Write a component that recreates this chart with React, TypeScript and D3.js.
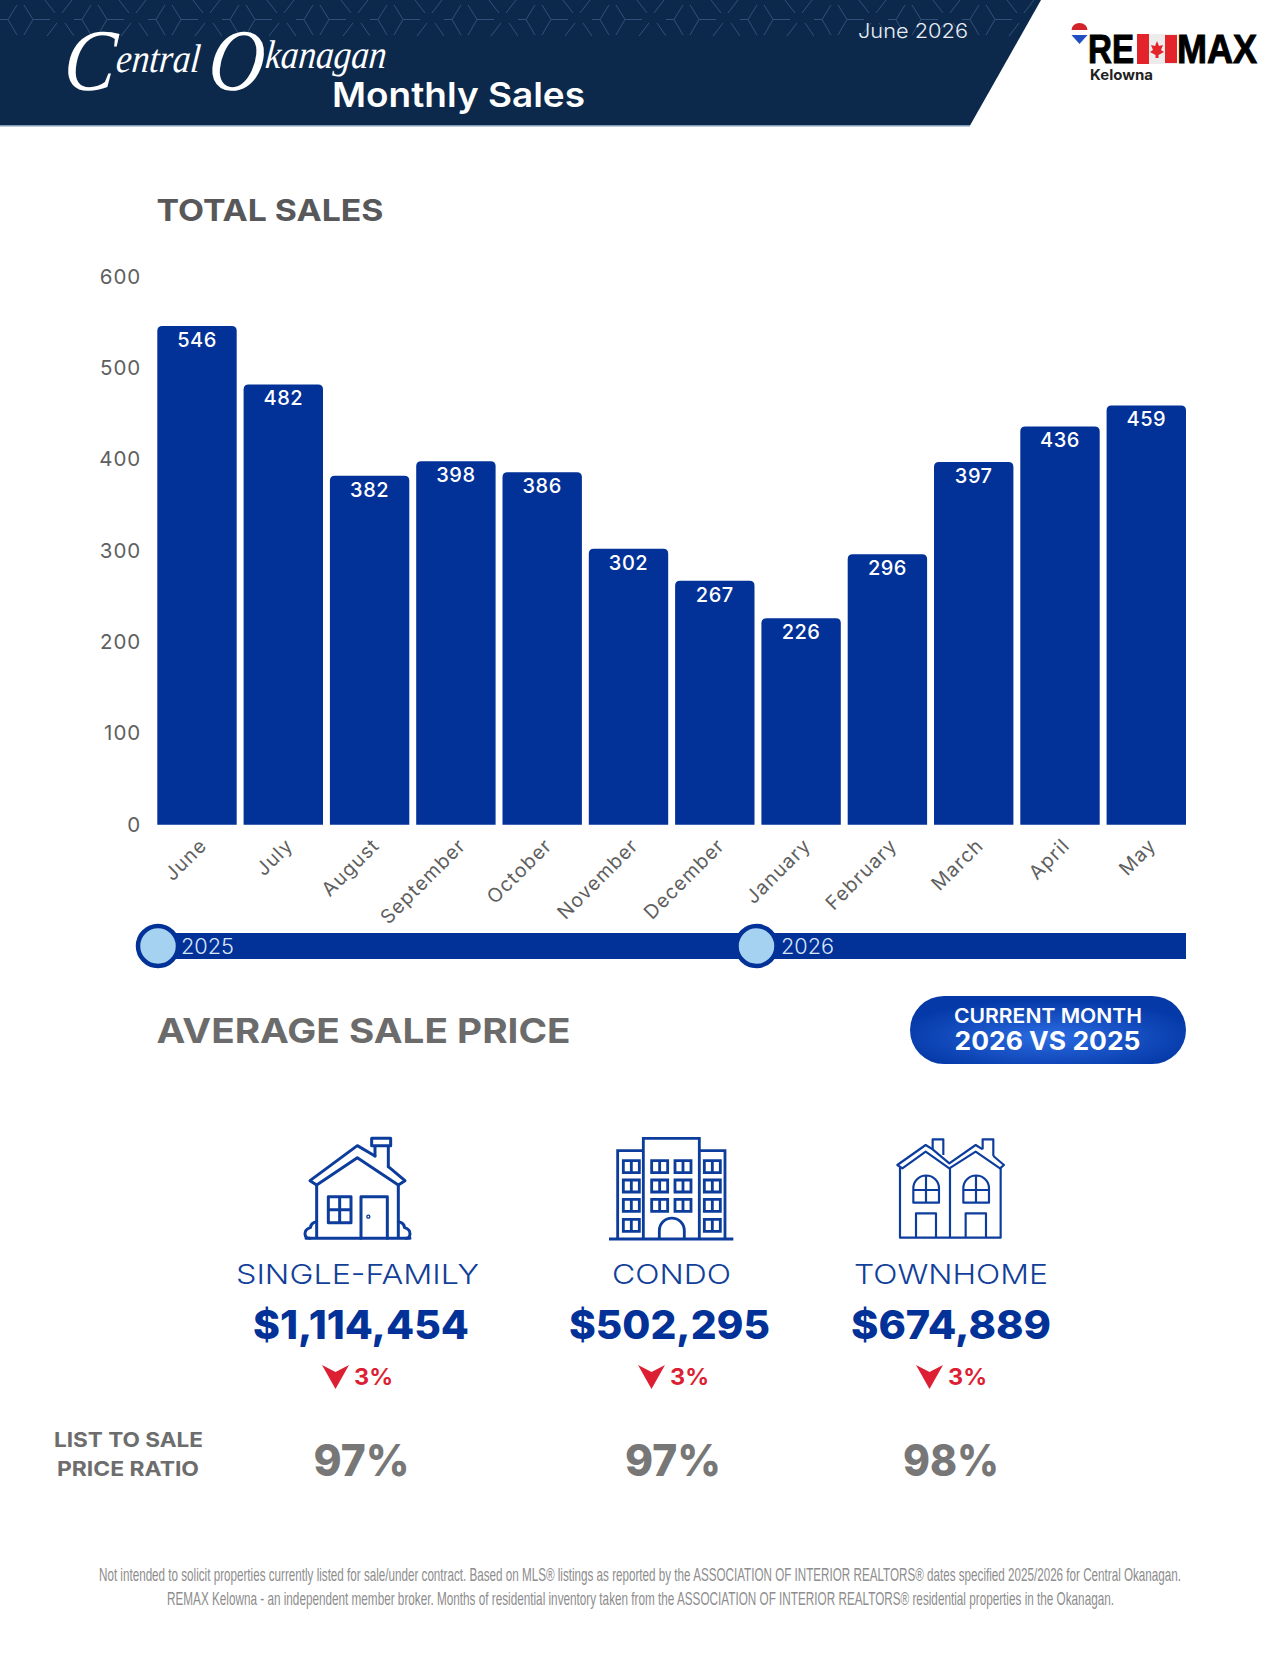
import React, { useEffect, useRef } from 'react';
import * as d3 from 'd3';

const months = ['June', 'July', 'August', 'September', 'October', 'November', 'December', 'January', 'February', 'March', 'April', 'May'];
const sales = [546, 482, 382, 398, 386, 302, 267, 226, 296, 397, 436, 459];
const yTicks = [0, 100, 200, 300, 400, 500, 600];
const propertyTypes = ['SINGLE-FAMILY', 'CONDO', 'TOWNHOME'];
const avgPrices = ['$1,114,454', '$502,295', '$674,889'];
const priceChanges = ['3%', '3%', '3%'];
const listToSale = ['97%', '97%', '98%'];

const FONT = 'Inter, "Open Sans", sans-serif';
const BLUE = '#023198';
const ICON = '#0d3d9c';
const NARROW = "'Liberation Sans Narrow','Liberation Sans',sans-serif";

// layout of the three property columns
const labelX = [357.5, 671.5, 951];
const labelW = [243, 119, 194];
const priceX = [361, 669.5, 951];
const priceW = [216, 201, 200];
const arrowX = [322, 638, 916];
const ratioX = [361.5, 673, 951];

const iconHouse = (
  <g transform="translate(300,1130) scale(0.3333)" fill="none" stroke={ICON} strokeWidth={9} strokeLinejoin="round" strokeLinecap="round">
    <path d="M225 78 L172 47 L30 152 L50 165 L172 83 L295 165 L315 152 L265 110" />
    <path d="M225 78 V47 M265 110 V47 M215 25 H272 V47 H215 Z" />
    <path d="M50 165 V325 M295 165 V325 M18 325 H330" />
    <path d="M85 200 H153 V278 H85 Z M119 200 V278 M85 239 H153" />
    <path d="M183 325 V200 H262 V325" />
    <path d="M50 275 Q32 278 32 292 Q14 298 15 312 Q16 325 30 325" />
    <path d="M295 275 Q313 278 313 292 Q331 298 330 312 Q329 325 318 325" />
    <circle cx={205} cy={260} r={2} />
  </g>
);

const condoCols = [55, 140, 210, 298];
const condoRows = [92, 150, 208, 268];
const iconCondo = (
  <g transform="translate(605,1130) scale(0.3333)" fill="none" stroke={ICON} strokeWidth={8.5}>
    <path d="M115 325 V25 H283 V325 M115 62 H38 V325 M283 62 H360 V325 M12 327 H385" />
    <path d="M163 325 V302 A37 37 0 0 1 238 302 V325" />
    {condoCols.map((cx) =>
      condoRows.map((cy, i) =>
        (cx === 140 || cx === 210) && i === 3 ? null : (
          <path key={`${cx}-${cy}`} d={`M${cx} ${cy} h48 v36 h-48 Z M${cx + 24} ${cy} v36`} />
        )
      )
    )}
  </g>
);

const iconTownhome = (
  <g transform="translate(890,1130) scale(0.3333)" fill="none" stroke={ICON} strokeWidth={6.5} strokeLinejoin="round">
    <path d="M128 58 L107 45 L22 105 L37 115 L107 65 L178 115 L257 65 L330 115 L342 105 L310 78 M278 58 L257 45 L178 100 L128 58" />
    <path d="M128 58 V28 H160 V75 M278 58 V28 H310 V78" />
    <path d="M30 112 V323 H332 V112 M180 112 V323" />
    <path d="M70 218 V175 A38 38 0 0 1 147 175 V218 Z M108 138 V218 M70 180 H147" />
    <path d="M220 218 V175 A38 38 0 0 1 297 175 V218 Z M258 138 V218 M220 180 H297" />
    <path d="M78 323 V250 H138 V323 M227 323 V250 H288 V323" />
  </g>
);

const App: React.FC = () => {
  const chartRef = useRef<SVGGElement | null>(null);

  useEffect(() => {
    const margin = { top: 276.7, right: 1186, bottom: 824.7, left: 157.3 };

    const xScale = d3.scaleBand().domain(months).range([margin.left, margin.right]).paddingInner(0.08);
    const yScale = d3.scaleLinear().domain([0, 600]).range([margin.bottom, margin.top]);

    const g = d3.select(chartRef.current);
    g.selectAll('*').remove();

    const yAxis = d3.axisLeft(yScale).tickValues(yTicks).tickSize(0).tickPadding(16);
    const yG = g.append('g').attr('transform', `translate(${margin.left},0)`).call(yAxis);
    yG.select('.domain').remove();
    yG.selectAll('text')
      .attr('font-family', FONT)
      .attr('font-size', 20.5)
      .attr('letter-spacing', 1)
      .attr('fill', '#5f5f5f');

    const xAxis = d3.axisBottom(xScale).tickSize(0);
    const xG = g.append('g').attr('transform', `translate(0,${margin.bottom})`).call(xAxis);
    xG.select('.domain').remove();
    xG.selectAll('text')
      .attr('font-family', FONT)
      .attr('font-size', 19.5)
      .attr('letter-spacing', 1.1)
      .attr('fill', '#5f5f5f')
      .attr('text-anchor', 'end')
      .attr('dy', 0)
      .attr('y', 0)
      .attr('transform', 'translate(11,22) rotate(-45)');

    const r = 5;
    g.selectAll('.bar')
      .data(sales)
      .enter()
      .append('path')
      .attr('class', 'bar')
      .attr('fill', BLUE)
      .attr('d', (d, i) => {
        const x0 = xScale(months[i]) as number;
        const x1 = x0 + xScale.bandwidth();
        const top = yScale(d);
        return `M${x0} ${margin.bottom}V${top + r}Q${x0} ${top} ${x0 + r} ${top}H${x1 - r}Q${x1} ${top} ${x1} ${top + r}V${margin.bottom}Z`;
      });

    g.selectAll('.value')
      .data(sales)
      .enter()
      .append('text')
      .attr('class', 'value')
      .attr('x', (_, i) => (xScale(months[i]) as number) + xScale.bandwidth() / 2)
      .attr('y', (d) => yScale(d) + 21)
      .attr('text-anchor', 'middle')
      .attr('font-family', FONT)
      .attr('font-size', 20)
      .attr('font-weight', 500)
      .attr('letter-spacing', 0.5)
      .attr('fill', '#fff')
      .text((d) => d);
  }, []);

  return (
    <svg width={1280} height={1656} viewBox="0 0 1280 1656" style={{ position: 'absolute', top: 0, left: 0, background: '#fff' }}>
      <defs>
        <clipPath id="banner">
          <path d="M0 0 H1041 L970 125 H0 Z" />
        </clipPath>
        <pattern id="hex" width={74} height={40} patternUnits="userSpaceOnUse">
          <path
            d="M0 19.5 H8 L17 5 M8 19.5 L17 35 M24 5 L33 19.5 L24 35 M33 19.5 H50 M45 0 L55 13 M72 0 L62 13 M47 36 L57 23 M65 23 L74 36"
            fill="none"
            stroke="#314f78"
            strokeWidth={1}
          />
        </pattern>
        <radialGradient id="pill" cx="50%" cy="60%" r="55%">
          <stop offset="0%" stopColor="#2b6ce2" />
          <stop offset="100%" stopColor="#0539a8" />
        </radialGradient>
      </defs>

      {/* header */}
      <path d="M0 0 H1041 L970 125.5 H0 Z" fill="#0c294c" />
      <rect x={0} y={125} width={970} height={1.5} fill="#7f9bb8" />
      <rect x={0} y={0} width={1041} height={40} fill="url(#hex)" clipPath="url(#banner)" />
      <text x={0} y={0} transform="translate(62,90) scale(0.88,1) skewX(-6)" fontFamily="'Liberation Serif', serif" fontStyle="italic" fill="#fff" fontSize={40}>
        <tspan fontSize={88}>C</tspan>
        <tspan dy={-18}>entral </tspan>
        <tspan fontSize={88} dy={18}>O</tspan>
        <tspan dy={-22}>kanagan</tspan>
      </text>
      <text x={332} y={107} fontFamily={FONT} fontSize={34} fontWeight={600} fill="#fff" textLength={253} lengthAdjust="spacingAndGlyphs">Monthly Sales</text>
      <text x={858} y={38} fontFamily={FONT} fontSize={20} fontWeight={300} fill="#e8edf4" textLength={110} lengthAdjust="spacingAndGlyphs">June 2026</text>

      {/* logo */}
      <g>
        <path d="M1071.5 30 A8 7 0 0 1 1087.5 30 Z" fill="#d2232a" />
        <rect x={1071.5} y={30} width={16} height={5} fill="#fff" />
        <path d="M1071.5 35 H1087.5 L1079.5 44 Z" fill="#1f4fc0" />
        <text x={1088} y={63} fontFamily="'Liberation Sans', sans-serif" fontSize={40} fontWeight={700} fill="#000" stroke="#000" strokeWidth={1} textLength={46} lengthAdjust="spacingAndGlyphs">RE</text>
        <rect x={1137} y={34} width={40} height={30} fill="#ececec" />
        <rect x={1137} y={34} width={12} height={30} fill="#e3252b" />
        <rect x={1165} y={35} width={12} height={28} fill="#e3252b" />
        <path d="M1157 41 L1159 46 L1163 45 L1161 50 L1164 52 L1158.5 55 V58 H1155.5 V55 L1150 52 L1153 50 L1151 45 L1155 46 Z" fill="#e3252b" />
        <text x={1177} y={63} fontFamily="'Liberation Sans', sans-serif" fontSize={40} fontWeight={700} fill="#000" stroke="#000" strokeWidth={1} textLength={80} lengthAdjust="spacingAndGlyphs">MAX</text>
        <text x={1090} y={80} fontFamily={FONT} fontSize={14.5} fontWeight={700} fill="#222" textLength={63} lengthAdjust="spacingAndGlyphs">Kelowna</text>
      </g>

      <text x={156.5} y={221} fontFamily={FONT} fontSize={30} fontWeight={700} fill="#58585a" textLength={227} lengthAdjust="spacingAndGlyphs">TOTAL SALES</text>

      <g ref={chartRef} />

      {/* year timeline */}
      <rect x={158} y={933} width={1028} height={26} fill={BLUE} />
      <circle cx={158} cy={946} r={20} fill="#a6d2f2" stroke={BLUE} strokeWidth={4.5} />
      <circle cx={756.5} cy={946} r={20} fill="#a6d2f2" stroke={BLUE} strokeWidth={4.5} />
      <text x={181} y={954} fontFamily={FONT} fontSize={21} fontWeight={300} fill="#d8e6f8" textLength={53} lengthAdjust="spacingAndGlyphs">2025</text>
      <text x={781} y={954} fontFamily={FONT} fontSize={21} fontWeight={300} fill="#d8e6f8" textLength={53} lengthAdjust="spacingAndGlyphs">2026</text>

      <text x={156.5} y={1043} fontFamily={FONT} fontSize={34} fontWeight={700} fill="#6b6b6b" textLength={414} lengthAdjust="spacingAndGlyphs">AVERAGE SALE PRICE</text>

      <rect x={910} y={996} width={276} height={68} rx={34} fill="url(#pill)" />
      <text x={954} y={1023} fontFamily={FONT} fontSize={20} fontWeight={600} fill="#fff" textLength={188} lengthAdjust="spacingAndGlyphs">CURRENT MONTH</text>
      <text x={954.5} y={1050} fontFamily={FONT} fontSize={25} fontWeight={700} fill="#fff" textLength={186} lengthAdjust="spacingAndGlyphs">2026 VS 2025</text>

      {iconHouse}
      {iconCondo}
      {iconTownhome}

      {propertyTypes.map((name, i) => (
        <g key={name}>
          <text x={labelX[i] - labelW[i] / 2} y={1284} fontFamily={FONT} fontSize={27.5} fontWeight={300} fill="#123f99" textLength={labelW[i]} lengthAdjust="spacingAndGlyphs">{name}</text>
          <text x={priceX[i] - priceW[i] / 2} y={1339} fontFamily={FONT} fontSize={40} fontWeight={800} fill={BLUE} textLength={priceW[i]} lengthAdjust="spacingAndGlyphs">{avgPrices[i]}</text>
          <path d={`M${arrowX[i]} 1365 L${arrowX[i] + 13.5} 1372 L${arrowX[i] + 27} 1365 L${arrowX[i] + 13.5} 1389 Z`} fill="#dc1f33" />
          <text x={arrowX[i] + 32} y={1385} fontFamily={FONT} fontSize={23} fontWeight={700} fill="#dc1f33" textLength={39} lengthAdjust="spacingAndGlyphs">{priceChanges[i]}</text>
          <text x={ratioX[i] - 48} y={1476} fontFamily={FONT} fontSize={44} fontWeight={800} fill="#777" textLength={96} lengthAdjust="spacingAndGlyphs">{listToSale[i]}</text>
        </g>
      ))}

      <text x={54} y={1447} fontFamily={FONT} fontSize={20} fontWeight={700} fill="#6d6d6d" textLength={149} lengthAdjust="spacingAndGlyphs">LIST TO SALE</text>
      <text x={57} y={1476} fontFamily={FONT} fontSize={20} fontWeight={700} fill="#6d6d6d" textLength={142} lengthAdjust="spacingAndGlyphs">PRICE RATIO</text>

      <text transform="translate(99,1581) scale(1,1.25)" fontFamily={NARROW} fontSize={14.4} fill="#8d8d8d" textLength={1082} lengthAdjust="spacingAndGlyphs">
        Not intended to solicit properties currently listed for sale/under contract. Based on MLS® listings as reported by the ASSOCIATION OF INTERIOR REALTORS® dates specified 2025/2026 for Central Okanagan.
      </text>
      <text transform="translate(167,1605) scale(1,1.25)" fontFamily={NARROW} fontSize={14.4} fill="#8d8d8d" textLength={947} lengthAdjust="spacingAndGlyphs">
        REMAX Kelowna - an independent member broker. Months of residential inventory taken from the ASSOCIATION OF INTERIOR REALTORS® residential properties in the Okanagan.
      </text>
    </svg>
  );
};

export default App;
